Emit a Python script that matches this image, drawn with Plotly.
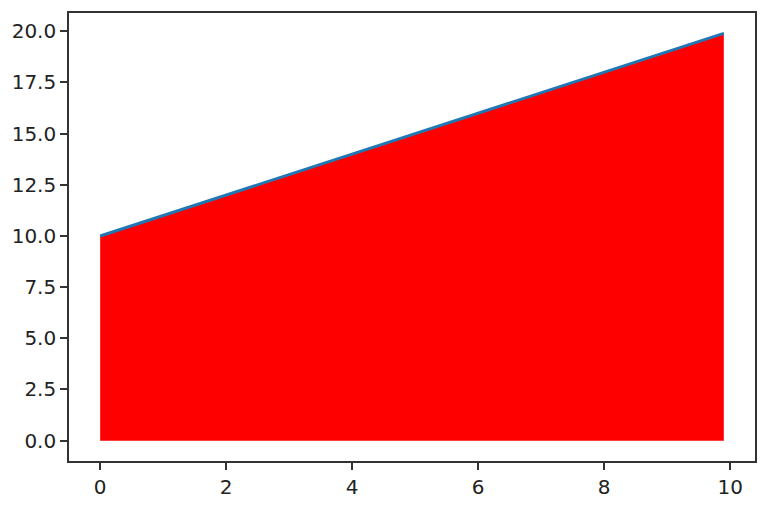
import plotly.graph_objects as go

# endpoints of the line
x_vals = [0, 9.9]
y_vals = [10, 19.9]

x_ticks = [0, 2, 4, 6, 8, 10]
y_ticks = [0, 2.5, 5, 7.5, 10, 12.5, 15, 17.5, 20]

fig = go.Figure()

# red area under the line
fig.add_trace(go.Scatter(
    x=x_vals, y=y_vals,
    mode='lines',
    fill='tozeroy',
    fillcolor='red',
    line=dict(color='red', width=0.5),
    hoverinfo='skip'
))
# the line itself
fig.add_trace(go.Scatter(
    x=x_vals, y=y_vals,
    mode='lines',
    line=dict(color='#1f77b4', width=3)
))

axis_style = dict(
    showgrid=False, zeroline=False,
    showline=True, linecolor='#333333', linewidth=1.6, mirror=True,
    ticks='outside', ticklen=7, tickwidth=1.6, tickcolor='#333333',
    tickfont=dict(family='DejaVu Sans', size=20, color='#222222'),
)

fig.update_xaxes(range=[-0.495, 10.395], tickvals=x_ticks,
                 ticktext=[str(t) for t in x_ticks], **axis_style)
fig.update_yaxes(range=[-0.995, 20.895], tickvals=y_ticks,
                 ticktext=['%.1f' % t for t in y_ticks], **axis_style)

# page has an 8px body margin, so the figure is a bit smaller than the window
fig.update_layout(
    width=752, height=497,
    margin=dict(l=61, r=3, t=4, b=44),
    plot_bgcolor='white', paper_bgcolor='white',
    showlegend=False,
)

fig.write_html("out.html")
